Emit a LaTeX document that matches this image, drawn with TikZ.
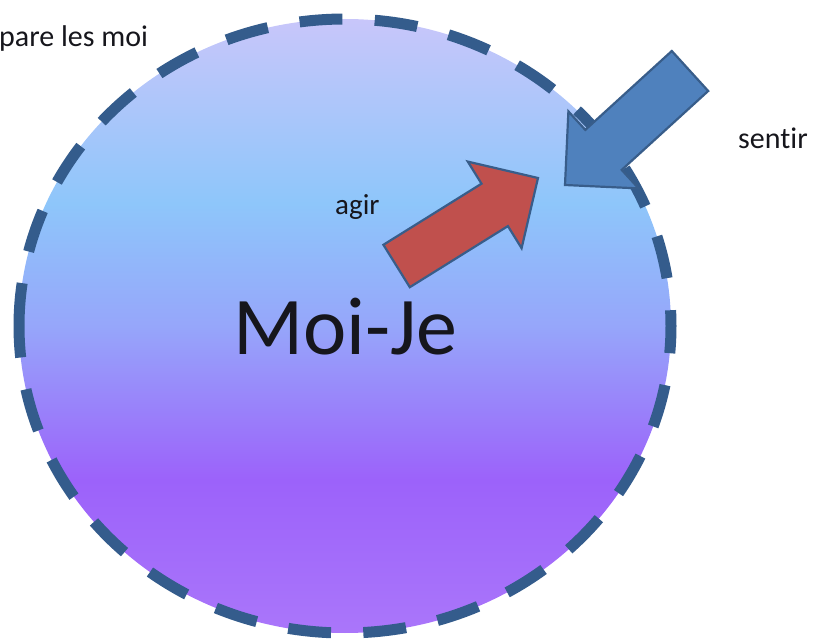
\documentclass[tikz,border=0pt]{standalone}
\usepackage{fontspec}
\setmainfont{Carlito}[Ligatures=NoCommon]

% colours of the sphere's vertical gradient, bottom to top
\definecolor{shBottom}{RGB}{170,118,250}
\definecolor{shPurple}{RGB}{156,98,250}
\definecolor{shMiddle}{RGB}{150,166,250}
\definecolor{shBlue}{RGB}{142,198,250}
\definecolor{shTop}{RGB}{200,198,250}
\definecolor{rimBlue}{RGB}{52,92,140}
\definecolor{arrowEdge}{RGB}{56,93,138}
\definecolor{senseBlue}{RGB}{79,129,189}
\definecolor{actRed}{RGB}{192,80,77}
\definecolor{ink}{RGB}{22,22,28}

\pgfdeclareverticalshading{moishade}{100bp}{%
  color(0bp)=(shBottom); color(25bp)=(shBottom);
  color(37.5bp)=(shPurple); color(50bp)=(shMiddle);
  color(60bp)=(shBlue); color(75bp)=(shTop); color(100bp)=(shTop)}

\tikzset{
  rim/.style={draw=rimBlue, line width=11pt, line cap=butt,
              dash pattern=on 43pt off 32.3pt},
  blockarrow/.style={draw=arrowEdge, line width=2.2pt, line join=miter},
  label/.style={inner sep=0pt, text=ink, anchor=base west},
}

\begin{document}
\begin{tikzpicture}[x=1pt, y=-1pt]
  \useasboundingbox (0,0) rectangle (815,639);

  % the sphere: gradient fill, then its dashed rim starting at the left point
  \coordinate (centre) at (345,326);
  \coordinate (rimstart) at (19,326);
  \path[shading=moishade] (centre) ellipse [x radius=326, y radius=307];
  \draw[rim] (rimstart) arc [start angle=180, end angle=540,
                              x radius=326, y radius=307];

  % "sentir": blue block arrow coming in from the upper right
  \draw[blockarrow, fill=senseBlue]
    (565,185) -- (638.6,188.4) -- (621.7,169.9) -- (708.2,91)
    -- (671.8,51) -- (585.3,129.9) -- (568.4,111.4) -- cycle;

  % "agir": red block arrow going out towards the upper right
  \draw[blockarrow, fill=actRed]
    (538,178) -- (467.8,161.6) -- (481.5,183.7) -- (383.4,244.8)
    -- (409.8,287.2) -- (507.9,226.1) -- (521.6,248.2) -- cycle;

  % texts
  \node[label, font=\fontsize{30}{36}\selectfont] (compare) at (-1,47) {pare les moi};
  \node[label, font=\fontsize{30}{36}\selectfont] (sentir) at (738,149) {sentir};
  \node[label, font=\fontsize{29}{35}\selectfont] (agir) at (335,215) {agir};
  \node[label, font=\fontsize{82}{98}\selectfont] (moije) at (233,355) {Moi-Je};
\end{tikzpicture}
\end{document}
